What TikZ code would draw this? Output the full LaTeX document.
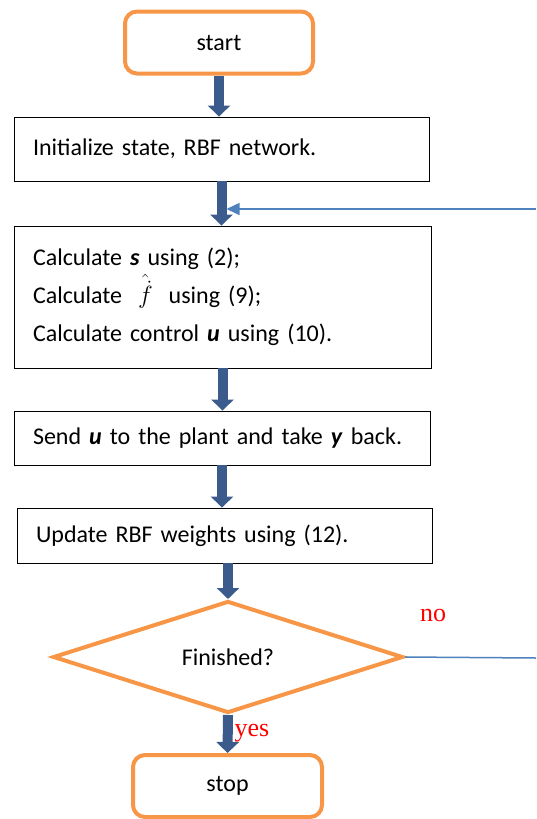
\documentclass[tikz,border=0pt]{standalone}
\usepackage{fontspec}
\setmainfont{Carlito}
\newfontfamily\timesfont{Liberation Serif}
\usepackage{tikz}
\usetikzlibrary{shapes.geometric, arrows.meta}
\definecolor{termorange}{RGB}{247,150,70}
\definecolor{flowblue}{RGB}{59,91,140}
\definecolor{loopblue}{RGB}{79,129,189}

\begin{document}
\begin{tikzpicture}[x=1pt, y=1pt, font=\fontsize{24}{38}\selectfont,
termbox/.style={draw=termorange, line width=4pt, rounded corners=12pt, minimum height=62pt, align=center},
procbox/.style={draw=black, line width=0.9pt, inner xsep=19pt, align=left},
decbox/.style={diamond, draw=termorange, line width=4pt, minimum width=350pt, minimum height=112pt, inner sep=0pt},
flowarrow/.style={draw=flowblue, line width=10pt, -{Triangle[width=22pt, length=11pt]}},
loopline/.style={draw=loopblue, line width=1.5pt},
answer/.style={text=red, font=\timesfont\fontsize{26}{30}\selectfont}]
\useasboundingbox (0,0) rectangle (536,-819);
\node[termbox, minimum width=188pt] (start) at (219,-42.5) {start};
\node[procbox, text width=377pt, minimum height=64pt] (init) at (221.5,-149) {Initialize state, RBF network.};
\node[procbox, text width=379pt, minimum height=142pt] (calc) at (222.5,-297) {Calculate \textbf{\textit{s}} using (2);\\ Calculate \ $\hat{\dot{f}}$ \ using (9);\\ Calculate control \textbf{\textit{u}} using (10).};
\node[procbox, text width=378pt, minimum height=54pt] (send) at (222,-438) {Send \textbf{\textit{u}} to the plant and take \textbf{\textit{y}} back.};
\node[procbox, text width=377pt, minimum height=55pt] (update) at (224.5,-535.5) {Update RBF weights using (12).};
\node[decbox] (check) at (228,-657) {Finished?};
\node[termbox, minimum width=189pt] (stop) at (227.5,-786) {stop};
\node[answer] (nolabel) at (433,-615) {no};
\node[answer] (yeslabel) at (252,-733) {yes};
\coordinate (loopout) at (536,-658);
\coordinate (loopin) at (536,-209);
\draw[flowarrow] (start.south) -- (start.south |- init.north);
\draw[flowarrow] (init.south) -- (init.south |- calc.north);
\draw[flowarrow] (calc.south) -- (calc.south |- send.north);
\draw[flowarrow] (send.south) -- (send.south |- update.north);
\draw[flowarrow] (update.south -| check.north) -- (check.north);
\draw[flowarrow] (check.south) -- (stop.north);
\draw[loopline] (check.east) -- (loopout);
\draw[loopline, -{Triangle[width=12pt, length=13pt]}] (loopin) -- ([xshift=5pt]init.south |- loopin);
\end{tikzpicture}
\end{document}
